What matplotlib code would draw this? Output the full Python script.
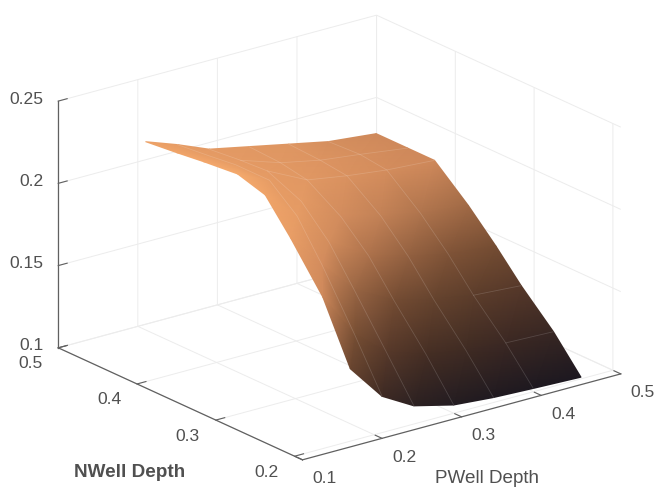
import numpy as np
import matplotlib
matplotlib.use("Agg")
import matplotlib.pyplot as plt
from matplotlib.colors import LinearSegmentedColormap
from matplotlib.tri import Triangulation
from mpl_toolkits.mplot3d import proj3d

plt.rcParams['font.family'] = ['Liberation Sans', 'DejaVu Sans']

# values
pwell = [0.17, 0.21, 0.25, 0.30, 0.35, 0.40, 0.46]
nwell = [0.20, 0.235, 0.276, 0.308, 0.343, 0.386, 0.42, 0.46]
# one row per pwell value, one column per nwell value
current = [
    [0.144, 0.180, 0.207, 0.226, 0.231, 0.229, 0.227, 0.225],
    [0.122, 0.152, 0.185, 0.208, 0.222, 0.222, 0.220, 0.218],
    [0.111, 0.136, 0.165, 0.187, 0.204, 0.213, 0.212, 0.210],
    [0.105, 0.128, 0.152, 0.172, 0.188, 0.201, 0.204, 0.205],
    [0.103, 0.124, 0.146, 0.165, 0.182, 0.197, 0.199, 0.200],
    [0.102, 0.122, 0.142, 0.160, 0.177, 0.194, 0.196, 0.195],
    [0.101, 0.121, 0.140, 0.157, 0.174, 0.192, 0.192, 0.192],
]
x_ticks = [0.1, 0.2, 0.3, 0.4, 0.5]
y_ticks = [0.2, 0.3, 0.4, 0.5]
z_ticks = [0.1, 0.15, 0.2, 0.25]
x_labels = ['0.1', '0.2', '0.3', '0.4', '0.5']
y_labels = ['0.2', '0.3', '0.4', '0.5']
z_labels = ['0.1', '0.15', '0.2', '0.25']

W, H = 655, 489
TEXT = '#505050'
GRID = '#ececec'
AXIS = '#606060'

fig = plt.figure(figsize=(W / 100, H / 100), dpi=100)
size = 489
ax = fig.add_axes([88.4 / W, -0.6 / H, size / W, size / H], projection='3d', proj_type='ortho')
ax.view_init(elev=20.6, azim=-127.5)
ax.set_box_aspect((1, 1, 0.657), zoom=1.242)
ax.set_xlim(0.1, 0.5, view_margin=0)
ax.set_ylim(0.19, 0.5, view_margin=0)
ax.set_zlim(0.1, 0.25, view_margin=0)
ax.set_xticks(x_ticks)
ax.set_yticks(y_ticks)
ax.set_zticks(z_ticks)
ax.set_xticklabels([])
ax.set_yticklabels([])
ax.set_zticklabels([])
ax.patch.set_alpha(0)

for axis in (ax.xaxis, ax.yaxis, ax.zaxis):
    axis.set_pane_color((1, 1, 1, 1))
    axis.pane.set_edgecolor('none')
    axis.line.set_color(AXIS)
    axis.line.set_linewidth(0.9)
    axis._axinfo['grid'].update(color=GRID, linewidth=0.7)
    axis._axinfo['tick'].update(inward_factor=0, outward_factor=0.35, linewidth={True: 0.8, False: 0.8}, color=AXIS)
ax.tick_params(color=AXIS)

fig.canvas.draw()


# 3d data coordinates -> figure pixels, through the axes projection
def to_pixels(xs, ys, zs):
    px, py, depth = proj3d.proj_transform(np.asarray(xs), np.asarray(ys), np.asarray(zs), ax.get_proj())
    return ax.transData.transform(np.column_stack([px, py])), depth


# the surface is drawn with gouraud shading in pixel space
xg, yg = np.meshgrid(pwell, nwell, indexing='ij')
zg = np.array(current)
pts, depth = to_pixels(xg.ravel(), yg.ravel(), zg.ravel())

nr, nc = zg.shape
tris = []
for i in range(nr - 1):
    for j in range(nc - 1):
        a, b, c, d = i * nc + j, i * nc + j + 1, (i + 1) * nc + j + 1, (i + 1) * nc + j
        tris += [[a, b, c], [a, c, d]]
tris = np.array(tris)
tris = tris[np.argsort(-depth[tris].mean(axis=1))]

height = 0.75 * (np.minimum(zg, 0.2) - 0.1) / 0.09
level = height * (1 + 0.15 * (0.46 - xg) / 0.29) + 12 * np.clip(zg - 0.222, 0, None)
copper_lit = LinearSegmentedColormap.from_list('copper_lit', [
    (0.0, '#1c1820'), (0.2, '#452e24'), (0.4, '#7a5035'),
    (0.6, '#cc875a'), (0.84, '#f5a86b'), (1.0, '#fac07c'),
])

over = fig.add_axes([0, 0, 1, 1])
over.set_xlim(0, W)
over.set_ylim(0, H)
over.axis('off')
over.tripcolor(Triangulation(pts[:, 0], pts[:, 1], tris), level.ravel(), shading='gouraud',
               cmap=copper_lit, vmin=0, vmax=1.25)

# faint mesh lines
gx = pts[:, 0].reshape(nr, nc)
gy = pts[:, 1].reshape(nr, nc)
for i in range(1, nr - 1):
    over.plot(gx[i], gy[i], color='white', lw=0.6, alpha=0.15)
for j, start in [(1, 5), (2, 5), (5, 2), (6, 2)]:
    over.plot(gx[start:, j], gy[start:, j], color='white', lw=0.6, alpha=0.15)

# tick labels
for val, lab in zip(x_ticks, x_labels):
    p, _ = to_pixels([val], [0.19], [0.1])
    over.annotate(lab, xy=p[0], xytext=(22, -18), textcoords='offset pixels', ha='center', va='center',
                  fontsize=12.6, color=TEXT)
for val, lab in zip(y_ticks, y_labels):
    p, _ = to_pixels([0.1], [val], [0.1])
    over.annotate(lab, xy=p[0], xytext=(-28, -15), textcoords='offset pixels', ha='center', va='center',
                  fontsize=12.6, color=TEXT)
for val, lab in zip(z_ticks, z_labels):
    p, _ = to_pixels([0.1], [0.5], [val])
    over.annotate(lab, xy=p[0], xytext=(-15, 3), textcoords='offset pixels', ha='right', va='center',
                  fontsize=12.6, color=TEXT)

fig.text(74 / W, 1 - 473 / H, 'NWell Depth', fontsize=13.6, fontweight='bold', color=TEXT, va='center')
fig.text(435 / W, 1 - 479 / H, 'PWell Depth', fontsize=13.6, color=TEXT, va='center')

fig.savefig('out.png', dpi=100)
